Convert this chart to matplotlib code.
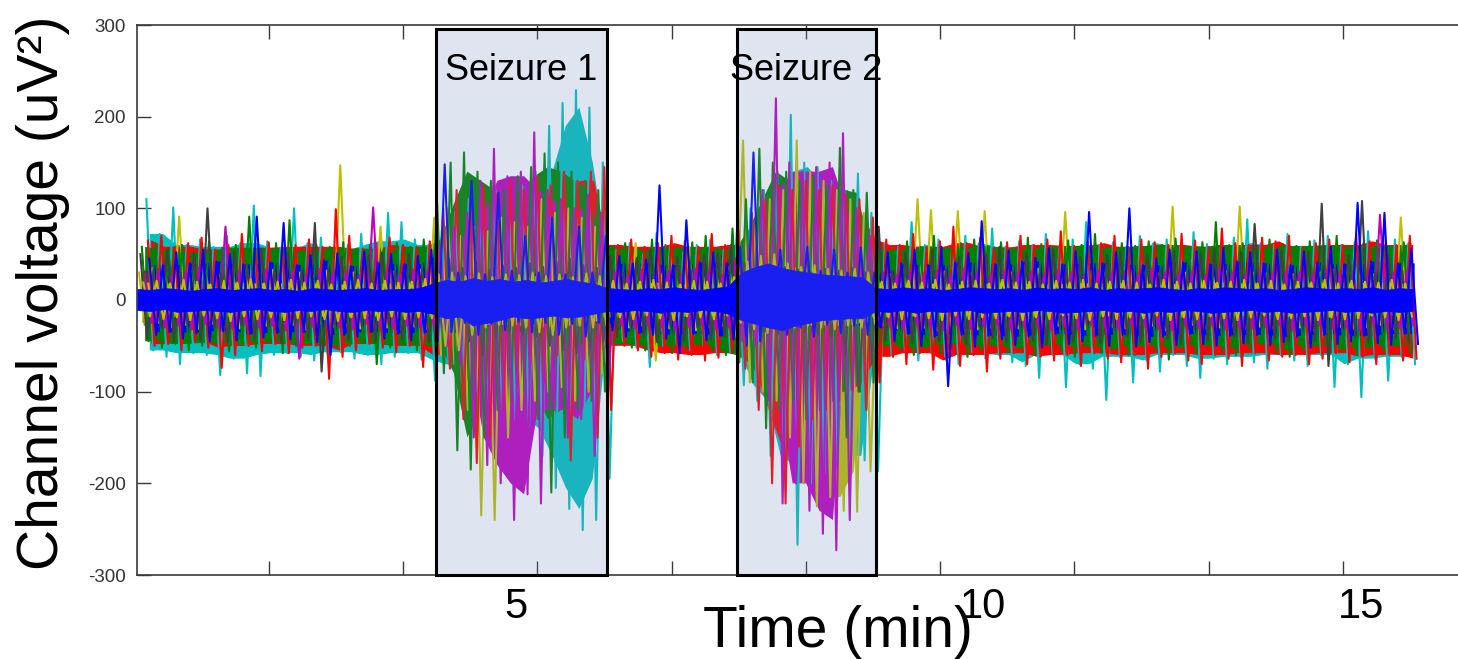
import numpy as np
import matplotlib
matplotlib.use("Agg")
import matplotlib.pyplot as plt
from matplotlib.patches import Rectangle

plt.rcParams["font.family"] = ["Liberation Sans", "DejaVu Sans"]
plt.rcParams["axes.unicode_minus"] = False

# ---------------------------------------------------------------------------
# Multichannel EEG, summarised as per-bin maxima / minima (uV) over 10-s bins.
# Recording blocks: pre-ictal, seizure 1, inter-ictal, seizure 2, post-ictal.
# ---------------------------------------------------------------------------
segment_start = {"pre": 2, "sz1": 222, "mid": 352, "sz2": 452, "post": 552}
segment_order = ["pre", "sz1", "mid", "sz2", "post"]
bin_seconds = 10
record_end = 958

cyan_hi = {
    "pre": [110, 72, 101, 60, 66, 58, 70, 62, 103, 64, 57, 100, 62, 68, 55, 60, 72, 64, 95, 85, 66, 60],
    "sz1": [75, 95, 110, 100, 120, 105, 125, 140, 190, 215, 229, 210, 150],
    "mid": [55, 62, 50, 73, 58, 52, 60, 66, 55, 80],
    "sz2": [100, 120, 140, 202, 150, 145, 130, 120, 138, 95],
    "post": [62, 58, 85, 60, 66, 55, 70, 62, 78, 58, 64, 60, 72, 57, 66, 85, 60, 63, 58, 70, 62,
             66, 59, 74, 61, 57, 68, 88, 62, 60, 72, 58, 65, 70, 60, 63, 75, 58, 66, 62, 60],
}
cyan_lo = {
    "pre": [-55, -62, -70, -58, -60, -82, -64, -80, -83, -60, -58, -62, -66, -60, -57, -64, -60, -70, -62, -58, -65, -88],
    "sz1": [-70, -90, -100, -110, -120, -130, -140, -170, -205, -228, -251, -240, -195],
    "mid": [-45, -52, -73, -50, -48, -55, -50, -60, -58, -93],
    "sz2": [-110, -170, -180, -267, -200, -190, -180, -170, -175, -187],
    "post": [-60, -55, -66, -58, -62, -70, -57, -64, -60, -68, -72, -85, -60, -95, -70, -75, -109, -62, -90, -66, -78,
             -60, -72, -85, -64, -70, -62, -68, -75, -60, -66, -72, -60, -95, -70, -106, -64, -88, -62, -70, -60],
}

olive_hi = {
    "pre": [30, 35, 28, 91, 32, 30, 27, 34, 29, 31, 33, 28, 30, 26, 32, 147, 30, 28, 80, 31, 29, 33],
    "sz1": [90, 100, 70, 80, 75, 90, 85, 80, 110, 95, 100, 90, 80],
    "mid": [30, 28, 62, 33, 29, 31, 58, 30, 34, 36],
    "sz2": [174, 100, 110, 120, 174, 140, 130, 120, 110, 95],
    "post": [30, 28, 33, 110, 98, 31, 97, 29, 97, 32, 30, 28, 34, 31, 96, 29, 33, 30, 28, 32, 31,
             29, 102, 30, 33, 28, 31, 102, 30, 29, 32, 28, 31, 30, 33, 29, 31, 28, 30, 90, 29],
}
olive_lo = {
    "pre": [-28, -25, -30, -27, -32, -26, -29, -31, -25, -28, -30, -27, -33, -26, -29, -28, -31, -25, -30, -27, -29, -32],
    "sz1": [-60, -70, -120, -235, -240, -150, -120, -110, -100, -95, -110, -100, -80],
    "mid": [-27, -30, -28, -66, -31, -29, -33, -30, -28, -40],
    "sz2": [-90, -100, -110, -150, -200, -225, -215, -230, -231, -187],
    "post": [-28, -31, -27, -30, -33, -29, -28, -32, -30, -27, -31, -29, -33, -28, -30, -32, -27, -29, -31, -30, -28,
             -33, -29, -27, -31, -30, -28, -32, -29, -31, -27, -30, -33, -28, -29, -31, -30, -27, -32, -29, -30],
}

red_hi = {
    "pre": [65, 70, 58, 62, 68, 55, 60, 72, 57, 63, 58, 60, 66, 58, 99, 70, 56, 62, 68, 60, 58, 64],
    "sz1": [100, 120, 110, 125, 115, 130, 120, 135, 125, 140, 130, 140, 145],
    "mid": [60, 66, 58, 62, 70, 64, 58, 72, 60, 75],
    "sz2": [95, 110, 125, 120, 130, 120, 125, 115, 110, 90],
    "post": [66, 60, 72, 58, 64, 80, 62, 68, 57, 63, 70, 60, 66, 75, 59, 64, 62, 70, 58, 66, 63,
             60, 72, 65, 58, 78, 62, 60, 68, 64, 70, 57, 62, 66, 60, 72, 64, 68, 60, 70, 89],
}
red_lo = {
    "pre": [-50, -48, -55, -46, -52, -74, -60, -50, -56, -48, -58, -52, -50, -86, -62, -55, -48, -52, -57, -50, -73, -60],
    "sz1": [-75, -130, -178, -150, -120, -95, -70, -90, -60, -175, -65, -150, -120],
    "mid": [-50, -55, -62, -58, -65, -60, -66, -63, -58, -75],
    "sz2": [-120, -200, -222, -160, -130, -120, -110, -100, -120, -90],
    "post": [-62, -70, -58, -76, -66, -72, -60, -78, -64, -58, -70, -62, -66, -60, -72, -58, -64, -68, -60, -75, -62,
             -58, -66, -70, -60, -64, -72, -58, -66, -62, -60, -70, -64, -58, -68, -62, -70, -60, -66, -64, -80],
}

green_hi = {
    "pre": [58, 62, 55, 60, 52, 64, 57, 60, 91, 56, 62, 87, 54, 60, 58, 63, 56, 60, 55, 62, 58, 66],
    "sz1": [105, 150, 161, 140, 130, 120, 135, 145, 160, 150, 140, 130, 120],
    "mid": [58, 62, 55, 66, 60, 57, 63, 70, 56, 78],
    "sz2": [110, 165, 150, 140, 130, 135, 125, 166, 120, 117],
    "post": [60, 55, 64, 58, 70, 57, 62, 66, 59, 63, 56, 68, 61, 58, 65, 60, 72, 57, 62, 59, 64,
             60, 67, 58, 63, 85, 60, 62, 57, 66, 61, 59, 64, 60, 70, 58, 62, 65, 59, 63, 60],
}
green_lo = {
    "pre": [-45, -52, -48, -55, -50, -47, -56, -49, -52, -46, -58, -50, -48, -54, -52, -50, -47, -70, -52, -49, -55, -50],
    "sz1": [-80, -164, -185, -150, -120, -110, -100, -130, -210, -150, -120, -110, -100],
    "mid": [-48, -52, -55, -50, -58, -53, -49, -56, -60, -68],
    "sz2": [-90, -140, -120, -110, -130, -120, -110, -150, -100, -90],
    "post": [-50, -55, -60, -52, -58, -48, -62, -55, -50, -57, -53, -60, -49, -56, -62, -51, -58, -54, -60, -50, -55,
             -65, -52, -58, -50, -56, -60, -53, -48, -57, -62, -55, -50, -58, -54, -60, -52, -56, -50, -58, -55],
}

magenta_hi = {
    "pre": [28, 32, 26, 30, 35, 27, 80, 31, 29, 33, 26, 30, 28, 34, 29, 31, 27, 101, 30, 28, 33, 29],
    "sz1": [60, 80, 95, 130, 165, 135, 140, 183, 120, 110, 100, 115, 95],
    "mid": [30, 27, 33, 29, 31, 28, 34, 30, 27, 45],
    "sz2": [60, 120, 220, 150, 140, 145, 150, 182, 100, 70],
    "post": [30, 27, 33, 29, 31, 28, 34, 30, 27, 32, 29, 31, 28, 33, 30, 27, 32, 29, 31, 28, 34,
             30, 29, 31, 27, 33, 30, 28, 32, 29, 31, 30, 28, 33, 29, 31, 27, 93, 30, 32, 29],
}
magenta_lo = {
    "pre": [-25, -30, -28, -32, -26, -29, -31, -27, -30, -28, -33, -64, -29, -27, -30, -32, -26, -29, -31, -28, -30, -27],
    "sz1": [-50, -70, -150, -180, -200, -240, -212, -222, -120, -150, -130, -170, -100],
    "mid": [-28, -31, -27, -30, -33, -29, -28, -32, -30, -45],
    "sz2": [-50, -110, -222, -200, -230, -255, -273, -240, -35, -30],
    "post": [-29, -32, -27, -30, -33, -28, -31, -29, -27, -32, -30, -28, -33, -29, -31, -27, -30, -32, -28, -29, -31,
             -33, -27, -30, -28, -32, -29, -31, -30, -27, -33, -29, -28, -31, -30, -32, -27, -29, -31, -28, -30],
}

grey_hi = {
    "pre": [50, 32, 55, 30, 52, 100, 29, 53, 34, 56, 31, 51, 30, 84, 33, 47, 28, 49, 52, 30, 50, 33],
    "sz1": [40, 45, 35, 42, 33, 38, 35, 40, 36, 42, 45, 38, 35],
    "mid": [48, 30, 46, 55, 29, 47, 32, 49, 51, 60],
    "sz2": [40, 35, 32, 36, 33, 30, 34, 32, 35, 30],
    "post": [80, 32, 52, 30, 55, 33, 47, 29, 49, 58, 31, 51, 28, 55, 34, 47, 30, 49, 52, 29, 50,
             33, 53, 30, 51, 56, 28, 52, 83, 31, 54, 29, 52, 105, 33, 49, 108, 30, 48, 32, 50],
}
grey_lo = {
    "pre": [-42, -28, -45, -26, -44, -30, -46, -27, -43, -29, -47, -28, -42, -78, -26, -44, -29, -45, -27, -43, -30, -46],
    "sz1": [-30, -35, -45, -60, -40, -35, -38, -40, -50, -55, -58, -52, -45],
    "mid": [-40, -28, -39, -46, -27, -45, -30, -43, -40, -55],
    "sz2": [-40, -35, -37, -36, -35, -38, -40, -60, -100, -70],
    "post": [-44, -28, -47, -30, -45, -27, -48, -29, -41, -46, -28, -44, -49, -30, -45, -27, -47, -29, -40, -46, -28,
             -42, -48, -30, -45, -27, -40, -47, -29, -42, -46, -28, -45, -72, -30, -40, -47, -28, -42, -46, -29],
}

blue_hi = {
    "pre": [45, 38, 52, 40, 55, 42, 50, 39, 91, 41, 84, 38, 49, 43, 51, 37, 53, 41, 50, 39, 48, 55],
    "sz1": [148, 30, 130, 28, 117, 32, 70, 30, 90, 28, 80, 30, 70],
    "mid": [48, 40, 44, 125, 38, 87, 41, 52, 40, 58],
    "sz2": [161, 35, 55, 30, 58, 32, 55, 30, 57, 30],
    "post": [52, 40, 55, 38, 58, 41, 51, 86, 39, 54, 42, 46, 57, 39, 53, 96, 40, 52, 100, 38, 45,
             55, 41, 53, 39, 57, 42, 52, 40, 55, 38, 53, 41, 58, 39, 106, 42, 95, 40, 56, 43],
}
blue_lo = {
    "pre": [-38, -35, -42, -36, -45, -34, -44, -37, -41, -36, -43, -35, -46, -60, -38, -40, -35, -42, -37, -44, -36, -45],
    "sz1": [-35, -25, -38, -26, -33, -24, -35, -25, -38, -26, -40, -25, -33],
    "mid": [-40, -36, -38, -42, -58, -37, -44, -39, -43, -50],
    "sz2": [-45, -28, -38, -30, -40, -27, -36, -28, -38, -30],
    "post": [-45, -37, -50, -40, -94, -38, -51, -39, -43, -49, -40, -52, -37, -48, -45, -39, -50, -38, -51, -46, -40,
             -49, -37, -48, -50, -39, -47, -38, -49, -46, -40, -52, -38, -48, -45, -39, -47, -49, -37, -48, -40],
}

ring_hi = {
    "pre": [19, 21, 18, 22, 20, 17, 21, 19, 23, 18, 20, 22, 19, 21, 17, 20, 22, 18, 21, 19, 20, 23],
    "sz1": [28, 30, 26, 29, 25, 28, 27, 30, 26, 28, 25, 29, 26],
    "mid": [21, 18, 20, 22, 19, 17, 21, 20, 18, 25],
    "sz2": [42, 48, 50, 40, 36, 38, 34, 32, 34, 30],
    "post": [20, 18, 21, 19, 22, 17, 20, 21, 18, 22, 19, 20, 17, 21, 19, 22, 18, 20, 21, 19, 17,
             22, 20, 18, 21, 19, 20, 22, 18, 21, 17, 20, 19, 22, 18, 21, 20, 19, 22, 18, 20],
}
ring_lo = {
    "pre": [-18, -21, -19, -22, -17, -20, -23, -18, -21, -19, -22, -20, -18, -21, -23, -19, -20, -22, -18, -21, -19, -20],
    "sz1": [-50, -55, -38, -30, -27, -28, -30, -35, -38, -30, -28, -30, -28],
    "mid": [-19, -21, -17, -20, -22, -18, -19, -21, -17, -25],
    "sz2": [-32, -36, -30, -30, -28, -30, -32, -28, -30, -26],
    "post": [-19, -21, -18, -20, -22, -17, -21, -19, -20, -18, -22, -19, -21, -17, -20, -22, -18, -21, -19, -20, -17,
             -22, -19, -21, -18, -20, -22, -19, -17, -21, -20, -18, -22, -19, -21, -20, -17, -19, -22, -18, -20],
}

core_hi = {
    "pre": [12, 11, 13, 12, 10, 12, 13, 11, 12, 13, 11, 12, 10, 13, 12, 11, 12, 13, 11, 12, 12, 13],
    "sz1": [18, 22, 20, 24, 21, 23, 20, 22, 19, 21, 23, 20, 18],
    "mid": [13, 12, 11, 13, 12, 14, 12, 11, 13, 15],
    "sz2": [30, 36, 40, 35, 32, 30, 28, 27, 26, 25],
    "post": [13, 12, 14, 12, 13, 11, 12, 14, 13, 12, 13, 11, 14, 12, 13, 12, 14, 11, 13, 12, 13,
             14, 12, 11, 13, 12, 14, 13, 12, 13, 11, 12, 14, 13, 12, 13, 12, 14, 11, 13, 12],
}
core_lo = {
    "pre": [-11, -12, -10, -13, -12, -11, -12, -13, -11, -10, -12, -13, -11, -12, -10, -12, -13, -11, -12, -11, -13, -12],
    "sz1": [-15, -20, -18, -28, -25, -22, -18, -20, -19, -17, -19, -18, -15],
    "mid": [-12, -13, -11, -12, -14, -12, -13, -11, -12, -15],
    "sz2": [-22, -26, -30, -33, -28, -25, -22, -21, -20, -20],
    "post": [-12, -13, -11, -14, -12, -13, -12, -11, -14, -13, -12, -13, -11, -12, -14, -13, -12, -11, -13, -12, -14,
             -12, -13, -11, -12, -14, -13, -12, -11, -13, -12, -14, -13, -12, -11, -13, -12, -14, -12, -13, -12],
}

seizure_windows = [(224.4, 351.8), (448.6, 552.2)]
seizure_labels = ["Seizure 1", "Seizure 2"]
minute_labels = ["5", "10", "15"]

# MATLAB-style line colours: (maxima, minima, colour, time offset within the bin)
channels = [
    (cyan_hi, cyan_lo, (0.0, 0.75, 0.75), 6.7),
    (olive_hi, olive_lo, (0.75, 0.75, 0.0), 1.1),
    (red_hi, red_lo, (1.0, 0.0, 0.0), 7.8),
    (green_hi, green_lo, (0.0, 0.5, 0.0), 3.3),
    (magenta_hi, magenta_lo, (0.75, 0.0, 0.75), 5.6),
    (grey_hi, grey_lo, (0.25, 0.25, 0.25), 2.2),
    (blue_hi, blue_lo, (0.0, 0.0, 1.0), 8.9),
    (ring_hi, ring_lo, (0.75, 0.75, 0.0), 4.4),
]
core_channel = (core_hi, core_lo, (0.0, 0.0, 1.0), 0.0)


def assemble(hi, lo, offset):
    ts, his, los = [], [], []
    for seg in segment_order:
        n = min(len(hi[seg]), len(lo[seg]))
        ts.append(segment_start[seg] + offset + bin_seconds * np.arange(n))
        his.append(np.asarray(hi[seg][:n], float))
        los.append(np.asarray(lo[seg][:n], float))
    t, h, l = np.concatenate(ts), np.concatenate(his), np.concatenate(los)
    keep = t + bin_seconds / 2 <= record_end
    return t[keep], h[keep], l[keep]


def sustained(values, pick):
    # level held over three neighbouring bins (isolated spikes removed)
    p = np.pad(values, 1, mode="edge")
    return pick(pick(p[:-2], p[1:-1]), p[2:])


W, H = 1458, 659
fig = plt.figure(figsize=(W / 100, H / 100), dpi=100)
ax = fig.add_axes([137 / W, 84 / H, 1323 / W, 550 / H])

traces = [(assemble(hi, lo, off), color) for hi, lo, color, off in channels]

# dense body of every channel underneath
for (t, h, l), color in traces:
    ax.fill_between(t + bin_seconds / 4, sustained(l, np.maximum), sustained(h, np.minimum),
                    facecolor=color, linewidth=0, zorder=2)

# min/max traces on top: bin maximum followed by bin minimum half a bin later
for (t, h, l), color in traces:
    tt = np.column_stack([t, t + bin_seconds / 2]).ravel()
    yy = np.column_stack([h, l]).ravel()
    ax.plot(tt, yy, color=color, linewidth=1.5, zorder=3)

t, h, l = assemble(*core_channel[:2], core_channel[3])
ax.fill_between(t, l, h, facecolor=core_channel[2], edgecolor=core_channel[2], linewidth=0.5, zorder=4)

for (x0, x1), label in zip(seizure_windows, seizure_labels):
    ax.add_patch(Rectangle((x0, -300), x1 - x0, 595.6,
                           facecolor=(112 / 255, 143 / 255, 188 / 255, 0.2235),
                           edgecolor="black", linewidth=2.2, zorder=5, clip_on=False))
    ax.text((x0 + x1) / 2, 240, label, ha="center", va="baseline", fontsize=26, zorder=6)

ax.set_xlim(1.7, 1.7 + 1323 / 1.3425)
ax.set_ylim(-300, 300)
ax.set_xticks(np.arange(100, 1000, 100))
ax.set_yticks(np.arange(-300, 301, 100))
ax.set_yticklabels([str(v) for v in range(-300, 301, 100)])

for side in ("top", "bottom", "left"):
    ax.spines[side].set_color("#3a3a3a")
    ax.spines[side].set_linewidth(1.2)
ax.spines["right"].set_visible(False)
ax.tick_params(axis="x", which="both", direction="in", top=True, bottom=True,
               length=10, width=1, color="#3a3a3a", labelbottom=False)
ax.tick_params(axis="y", which="both", direction="in", left=True, right=False,
               length=10, width=1, color="#3a3a3a", labelsize=13.5, labelcolor="#333333", pad=8)

fig.text(43 / W, 1 - 293 / H, "Channel voltage (uV\u00b2)", rotation=90,
         ha="center", va="center", fontsize=41)
fig.text(838 / W, (H - 647) / H, "Time (min)", ha="center", va="baseline", fontsize=41)
for label, xpx in zip(minute_labels, [516, 983, 1361]):
    fig.text(xpx / W, (H - 618) / H, label, ha="center", va="baseline", fontsize=30)

fig.savefig("out.png", dpi=100)
